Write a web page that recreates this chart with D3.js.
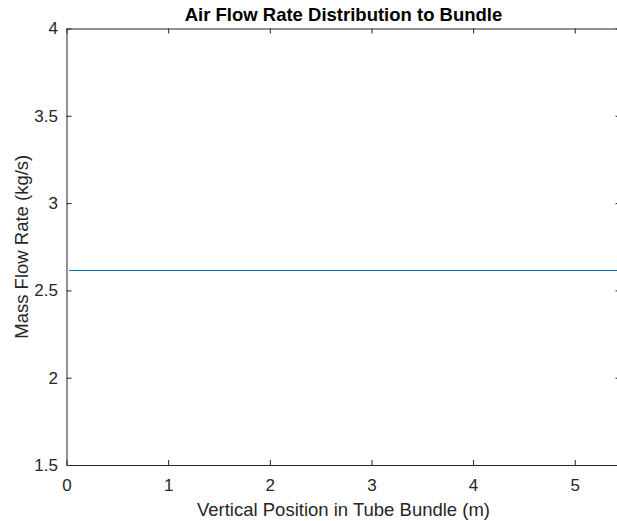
<!DOCTYPE html>
<html>
<head>
<meta charset="utf-8">
<script src="https://cdn.jsdelivr.net/npm/d3@7"></script>
<style>
  html, body { margin: 0; padding: 0; background: #fff; }
  svg { display: block; font-family: "Liberation Sans", Arial, Helvetica, sans-serif; }
</style>
</head>
<body>
<svg id="chart" width="617" height="521"></svg>
<script>
// Vertical positions along the tube bundle (m) and the air mass flow rate (kg/s) at each
const positions = [0.025, 5.45];
const massFlow = [2.614, 2.614];
const xTicks = [0, 1, 2, 3, 4, 5];
const yTicks = [1.5, 2, 2.5, 3, 3.5, 4];
const xDomain = [0, 5.45];
const yDomain = [1.5, 4];

const svg = d3.select("#chart");
const plot = { left: 66.5, top: 28.5, right: 620.5, bottom: 465 };

const x = d3.scaleLinear().domain(xDomain).range([plot.left, plot.right]);
const y = d3.scaleLinear().domain(yDomain).range([plot.bottom, plot.top]);

const axisColor = "#262626";
const tickLen = 5;

const g = svg.append("g");

// Data line
const line = d3.line().x((d, i) => x(positions[i])).y(d => y(d));
g.append("path")
  .datum(massFlow)
  .attr("d", line)
  .attr("fill", "none")
  .attr("stroke", "#0072BD")
  .attr("stroke-width", 1.2);

// Bottom axis with labels, top axis mirrored with inward ticks only
const gx = g.append("g").attr("transform", `translate(0,${plot.bottom})`)
  .call(d3.axisBottom(x).tickValues(xTicks).tickSizeInner(-tickLen).tickSizeOuter(0)
    .tickPadding(13.5).tickFormat(d3.format("d")));
const gxt = g.append("g").attr("transform", `translate(0,${plot.top})`)
  .call(d3.axisTop(x).tickValues(xTicks).tickSizeInner(-tickLen).tickSizeOuter(0).tickFormat(""));
// Left axis with labels, right axis mirrored
const gy = g.append("g").attr("transform", `translate(${plot.left},0)`)
  .call(d3.axisLeft(y).tickValues(yTicks).tickSizeInner(-tickLen).tickSizeOuter(0)
    .tickPadding(8.5).tickFormat(d => String(d)));
const gyr = g.append("g").attr("transform", `translate(${plot.right},0)`)
  .call(d3.axisRight(y).tickValues(yTicks).tickSizeInner(-tickLen).tickSizeOuter(0).tickFormat(""));

[gx, gxt, gy, gyr].forEach(a => {
  a.select(".domain").attr("stroke", axisColor).attr("stroke-width", 1);
  a.selectAll(".tick line").attr("stroke", axisColor).attr("stroke-width", 1);
  a.selectAll(".tick text").attr("fill", axisColor).style("font-size", "17px")
    .style("font-family", '"Liberation Sans", Arial, sans-serif');
});

// Title
svg.append("text")
  .attr("x", (plot.left + plot.right) / 2)
  .attr("y", 20.5)
  .attr("text-anchor", "middle")
  .attr("fill", "#000")
  .style("font-size", "18.5px")
  .style("font-weight", "bold")
  .text("Air Flow Rate Distribution to Bundle");

// X label
svg.append("text")
  .attr("x", (plot.left + plot.right) / 2)
  .attr("y", 516)
  .attr("text-anchor", "middle")
  .attr("fill", axisColor)
  .style("font-size", "18.5px")
  .text("Vertical Position in Tube Bundle (m)");

// Y label
svg.append("text")
  .attr("transform", `translate(28,${(plot.top + plot.bottom) / 2}) rotate(-90)`)
  .attr("text-anchor", "middle")
  .attr("fill", axisColor)
  .style("font-size", "18.5px")
  .text("Mass Flow Rate (kg/s)");
</script>
</body>
</html>
